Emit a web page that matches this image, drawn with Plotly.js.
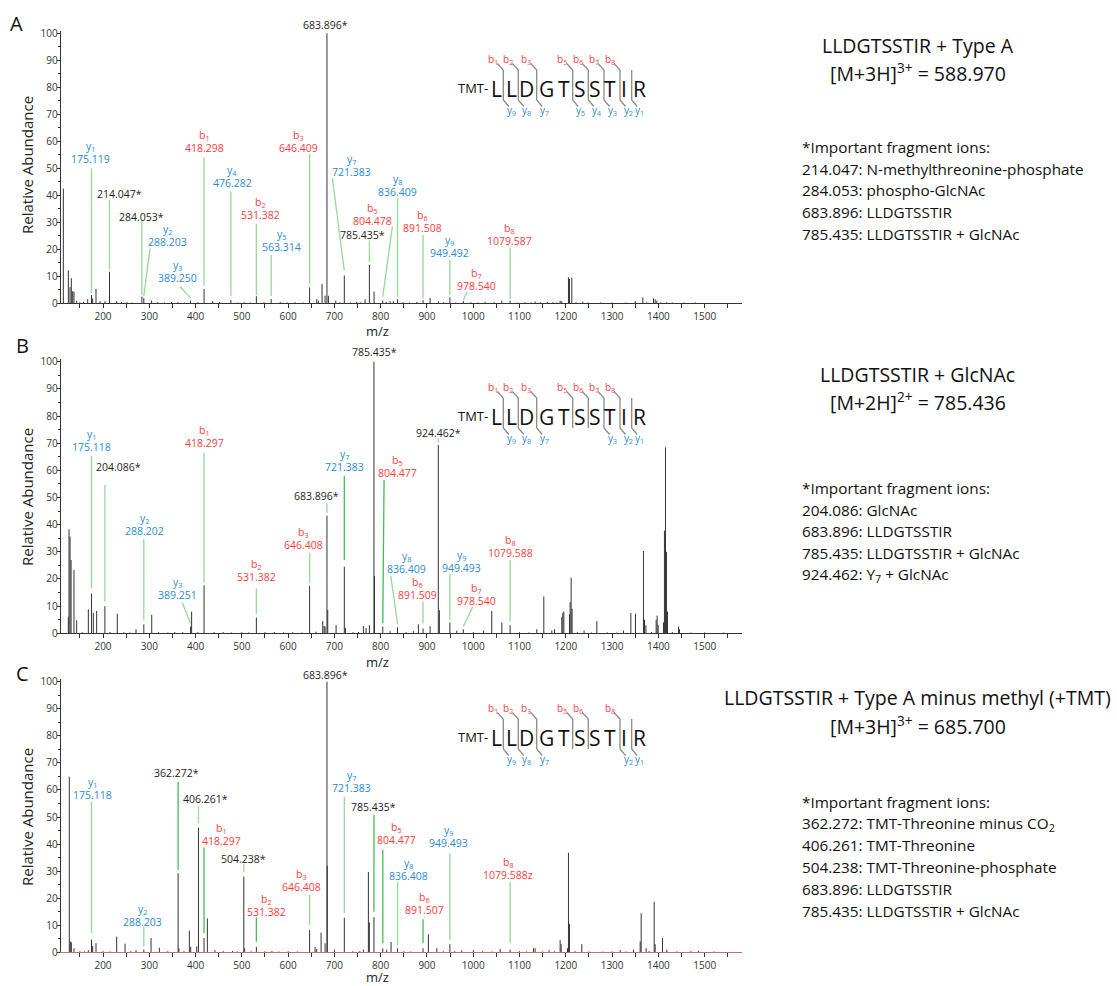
<!DOCTYPE html>
<html><head><meta charset="utf-8">
<script src="https://cdn.plot.ly/plotly-3.0.1.min.js"></script>
<style>html,body{margin:0;padding:0;background:#fff}#chart{width:1117px;height:986px}</style>
</head><body><div id="chart"></div>
<script>
const W = 1117, H = 986;

// ================= DATA =================
// spectra: [m/z, relative abundance]
const spectrumA = [[114.3,42.5],[125.1,12.2],[128.7,6.0],[131.6,9.3],[134.5,4.5],[137.3,4.3],[143.1,1.0],[150,0.4],[158,0.5],[166.9,1.5],[175.119,3.0],[177.7,1.8],[184.9,5.3],[193.5,0.8],[204.4,0.8],[214.047,11.7],[229.6,0.8],[240,0.5],[252,0.4],[263,0.3],[284.053,2.5],[288.203,2.0],[305,1.0],[318,0.4],[333,0.3],[348,0.5],[362,0.4],[376,0.3],[389.25,1.0],[405,0.4],[418.298,5.3],[437,0.8],[452,0.5],[476.282,1.2],[490,0.3],[505,0.4],[518,0.3],[531.382,2.6],[548,0.4],[563.314,1.6],[583,0.5],[598,0.3],[615,0.4],[632,0.3],[646.409,5.9],[661.8,1.5],[665.4,1.0],[673.3,7.2],[679.8,2.8],[683.896,100],[687,2.8],[702.9,1.0],[712,0.4],[721.383,10.3],[735,0.3],[748,0.5],[757,0.4],[766.3,1.5],[775.6,14.2],[785.7,4.3],[804.478,1.0],[812,0.5],[820.3,0.8],[827.4,0.8],[836.409,1.5],[848,0.4],[862,0.3],[878,0.5],[891.508,1.2],[906.7,2.0],[924.7,0.6],[936,0.4],[949.492,2.2],[962,0.3],[978.54,0.8],[995,0.4],[1010,0.3],[1025.6,0.5],[1045,0.4],[1061.7,1.0],[1079.587,1.0],[1095,0.3],[1112,0.4],[1125,0.3],[1133.6,0.7],[1145,0.4],[1160,0.5],[1172,0.4],[1180,0.3],[1187.7,1.0],[1191.3,0.8],[1205.7,9.6],[1207.9,9.0],[1212.9,9.5],[1222,0.4],[1236.7,0.6],[1248,0.3],[1275,0.3],[1300,0.3],[1330,0.3],[1349.8,0.8],[1366.4,2.2],[1375,0.4],[1389.4,1.8],[1393,1.5],[1396.7,1.0],[1405,0.4],[1418,0.4],[1430,0.3],[1455,0.3],[1480,0.3]];

const spectrumB = [[125.1,6.1],[126.6,38.3],[128.8,35.6],[131,27],[137.3,23.3],[143.1,4.8],[155,0.4],[168.3,8.8],[175.118,14.7],[179.1,7.5],[186.3,8.2],[204.086,10],[215,0.5],[230.9,7.2],[245,0.4],[258,0.3],[271.3,1.5],[288.202,3.3],[305.3,6.8],[320,0.4],[340,0.3],[355,0.5],[372,0.4],[389.251,2.5],[391.5,8],[405,0.4],[418.297,17.7],[440,0.5],[460,0.4],[478,0.3],[500,0.4],[515,0.3],[531.382,5.8],[550,0.4],[570,0.5],[590,0.3],[610,0.4],[630,0.3],[646.408,17.5],[660,0.6],[674.8,4.5],[677.7,2.7],[679.8,2.5],[683.896,43.3],[685.6,8.6],[703.6,3],[721.383,24.5],[723.8,2],[740,0.4],[752,0.5],[762.6,2.7],[768.4,2.0],[775.6,3.0],[785.435,100],[786.6,21],[804.477,2.5],[820.3,0.8],[836.409,2.2],[855,0.4],[870.7,0.8],[881.5,3.3],[891.509,1.8],[906.7,2.6],[924.462,69.3],[926.8,8.5],[949.493,4.0],[964.4,1.0],[978.54,1.5],[1000,0.4],[1022,1.0],[1040,8.2],[1061.7,4.0],[1079.588,3.0],[1100,0.4],[1120,0.3],[1137.3,1.5],[1152.4,13.5],[1169.7,1.0],[1175.4,1.5],[1191.3,6],[1193.5,7.5],[1195.7,8],[1207.9,7],[1209.3,11.5],[1211.5,20.5],[1213.6,9],[1225,0.4],[1239.5,1.0],[1255,0.3],[1267,4.5],[1290,0.3],[1310,0.3],[1324.5,1.0],[1340.5,7.5],[1350.5,7.2],[1367.7,30.3],[1370,5],[1373,3],[1385,0.5],[1395.2,5],[1397.3,6.5],[1399.5,3],[1411,4],[1413.1,37.8],[1415.3,68.5],[1417.4,30],[1419.6,8],[1430,0.5],[1443.4,2.5],[1445.6,1.5],[1470,0.3],[1500,0.3],[1540,0.3]];

const spectrumC = [[127.2,64.9],[129.4,4.0],[131.6,3.7],[137.3,1.5],[150,0.4],[160,0.3],[168.3,0.8],[175.118,4.7],[177.7,2.3],[184.9,3.4],[200,0.4],[215,0.3],[229.6,5.8],[247.6,3.2],[260,0.4],[271.3,0.8],[288.203,1.0],[303.8,5.3],[321.8,1.7],[340,0.4],[362.272,29.2],[364,1.5],[375,0.4],[386.6,8.0],[389.5,2.0],[402.5,2.2],[406.261,46.1],[418.297,5.3],[425.5,12.5],[442,0.8],[460,0.4],[480,0.5],[490,0.3],[504.238,28.0],[506,1.5],[520,0.4],[531.382,2.0],[550,0.4],[565,0.5],[580,0.3],[600,0.4],[620,0.3],[646.408,8.2],[658.2,2.0],[661.8,1.2],[671.2,7.3],[679.8,3.3],[683.896,100],[684.6,32],[700,1.0],[721.383,12.8],[740,0.4],[755,0.5],[762.6,1.0],[773.4,29.7],[775.5,11],[785.435,13.0],[804.477,1.5],[813,1.0],[822.4,3.8],[836.408,1.5],[850,0.4],[865,0.3],[891.507,1.5],[903.1,6.7],[921.2,1.5],[935,0.4],[949.493,3.0],[960,0.4],[975.2,0.7],[1000.3,0.8],[1020,0.4],[1040,0.3],[1058,1.2],[1079.588,1.0],[1100,0.4],[1115,0.3],[1130,1.5],[1133.6,1.5],[1150,0.3],[1163.9,0.8],[1175,0.4],[1187.7,4.5],[1189.9,3.0],[1203.6,1.5],[1205.7,36.8],[1207.9,10.5],[1220,0.4],[1234.5,3.0],[1250,0.3],[1280,0.3],[1300,0.3],[1317.4,0.8],[1330,0.3],[1346.2,1.0],[1360.6,4.0],[1362.8,14.4],[1373.6,1.5],[1380,0.4],[1390.9,18.7],[1393,3.0],[1408.9,5.3],[1418.3,1.0],[1440,0.3],[1470,0.4],[1486.6,0.5],[1520,0.3]];

// annotated ions: [ion name, label, type (b / y / n = other), m/z of the labelled peak]
const ionsA = [['y1','175.119','y',175.119],['','214.047*','n',214.047],['','284.053*','n',284.053],['y2','288.203','y',288.203],['y3','389.250','y',389.25],['b1','418.298','b',418.298],['y4','476.282','y',476.282],['b2','531.382','b',531.382],['y5','563.314','y',563.314],['b3','646.409','b',646.409],['','683.896*','n',683.896],['y7','721.383','y',721.383],['','785.435*','n',775.6],['b5','804.478','b',804.478],['y8','836.409','y',836.409],['b6','891.508','b',891.508],['y9','949.492','y',949.492],['b7','978.540','b',978.54],['b8','1079.587','b',1079.587]];
const ionsB = [['y1','175.118','y',175.118],['','204.086*','n',204.086],['y2','288.202','y',288.202],['y3','389.251','y',389.251],['b1','418.297','b',418.297],['b2','531.382','b',531.382],['b3','646.408','b',646.408],['','683.896*','n',683.896],['y7','721.383','y',721.383],['','785.435*','n',785.435],['b5','804.477','b',804.477],['y8','836.409','y',836.409],['b6','891.509','b',891.509],['','924.462*','n',924.462],['y9','949.493','y',949.493],['b7','978.540','b',978.54],['b8','1079.588','b',1079.588]];
const ionsC = [['y1','175.118','y',175.118],['y2','288.203','y',288.203],['','362.272*','n',362.272],['','406.261*','n',406.261],['b1','418.297','b',418.297],['','504.238*','n',504.238],['b2','531.382','b',531.382],['b3','646.408','b',646.408],['','683.896*','n',683.896],['y7','721.383','y',721.383],['','785.435*','n',785.435],['b5','804.477','b',804.477],['y8','836.408','y',836.408],['b6','891.507','b',891.507],['y9','949.493','y',949.493],['b8','1079.588z','b',1079.588]];

// peptide and observed fragment ions
const residues = ['L','L','D','G','T','S','S','T','I','R'];
const seqBA = [1,2,3,5,6,7,8], seqYA = [9,8,7,5,4,3,2,1];
const seqBB = [1,2,3,5,6,7,8], seqYB = [9,8,7,3,2,1];
const seqBC = [1,2,3,5,6,8],   seqYC = [9,8,7,2,1];

// side texts
const titleA = ['LLDGTSSTIR + Type A','[M+3H]<sup>3+</sup> = 588.970'];
const fragA = ['*Important fragment ions:','214.047: N-methylthreonine-phosphate','284.053: phospho-GlcNAc','683.896: LLDGTSSTIR','785.435: LLDGTSSTIR + GlcNAc'];
const titleB = ['LLDGTSSTIR + GlcNAc','[M+2H]<sup>2+</sup> = 785.436'];
const fragB = ['*Important fragment ions:','204.086: GlcNAc','683.896: LLDGTSSTIR','785.435: LLDGTSSTIR + GlcNAc','924.462: Y<sub>7</sub> + GlcNAc'];
const titleC = ['LLDGTSSTIR + Type A minus methyl (+TMT)','[M+3H]<sup>3+</sup> = 685.700'];
const fragC = ['*Important fragment ions:','362.272: TMT-Threonine minus CO<sub>2</sub>','406.261: TMT-Threonine','504.238: TMT-Threonine-phosphate','683.896: LLDGTSSTIR','785.435: LLDGTSSTIR + GlcNAc'];
const panelLetters = ['A','B','C'];
const xTitle = 'm/z', yTitle = 'Relative Abundance';

// ================= PLACEMENT (layout only) =================
// label: [labelX (m/z), labelY (abundance of number centre), leader top x (null = peak), leader top y (null = none), leader bottom y, dark]
const placeA = [[174,53.3,null,50,3.7,0],[234.6,40.4,null,38.3,12.6,0],[282.9,32.1,null,30.9,3.1,0],[339.8,22.8,301.6,20.4,2.6,0],[361.4,9.3,366.5,6.2,1.9,0],[418.3,57.4,null,54,6.5,0],[479.5,44.4,null,41.4,2.7,0],[539.3,32.7,null,29.4,3.1,0],[586.2,20.7,null,17.9,2.7,0],[622.2,57.4,null,55.3,7.2,0],[681.3,103.2,null,null,null,0],[737.5,48.8,695.6,46.3,12.1,0],[759.8,25.3,null,23.2,15.4,0],[781.5,30.6,825.3,28.4,2.5,0],[836.1,41.4,null,38.9,2.5,0],[890,27.8,null,25.3,1.9,0],[948.5,18.5,null,16,3.1,0],[1006.2,6.4,987.4,4.3,1.2,0],[1077.5,23.2,null,20.7,1.6,0]];
const placeB = [[174.1,68.7,null,65.3,16.6,0],[233.2,61.3,null,54.6,11.7,0],[288.6,37.8,null,34.6,4.9,0],[361.4,14.1,371.2,11.3,3.7,0],[418.3,70.2,null,66.5,18.6,0],[532.1,20.6,null,16.6,7.1,0],[633,32.5,null,29.7,18.6,0],[660.4,50.6,null,47.9,44.4,0],[721,61.3,null,58,27,1],[787.2,103.4,null,null,null,0],[836.9,58.9,807.3,56.4,3.7,1],[856.4,23.7,821.8,21.2,3.4,0],[879.4,14.1,null,11.7,3.7,0],[924.8,73.6,null,71.8,70.3,0],[975.2,23.9,null,21.8,4.7,0],[1007.6,12,999,9.8,2.5,0],[1081.1,29.7,null,27,4.3,0]];
const placeC = [[176.7,58.1,null,55.7,7,0],[285.7,11.3,null,9.5,2.1,0],[359.4,66.1,null,63,30.4,1],[420.5,56.5,null,53.8,47.7,0],[456.5,41.1,null,38.7,7,1],[503.3,34.4,null,32.6,29.6,0],[553.7,15,null,12.9,3.9,1],[628,24.3,null,21.2,10.1,0],[679.8,102.6,null,null,null,0],[737.5,60.6,null,57.5,14.4,0],[784.3,53.8,null,50.7,15,1],[833.3,41.5,null,37.8,3.3,1],[859.9,28.3,null,26.1,2.7,0],[893.8,15.6,null,12.2,3.3,1],[946.3,40.3,null,36.6,4.6,0],[1076,28.6,null,26.1,3.3,0]];

// plot geometry in px: [y of 0, y of 100]
const panelPx = [[303.3,33.3],[633.3,361.7],[952.3,681.7]];
const plotLeft = 60.7, plotRight = 741.7;
const xRange = [108.6, 1580];
// sequence geometry (px)
const letterPx = [496,511,526.5,546,564,579.5,594.5,610,624,639];
const sitePx = [null,503.3,518.3,536.7,555,572.7,588.3,604,620,631.7];
const seqOffset = [0,328,649];
// side text geometry (px): [title y, formula y, fragment first y]
const sideY = [[45,72,147],[374,402,488],[697,725,802]];
const letterPos = [[16.7,23],[22.5,345],[22.5,673]];
const mzPos = [[377,331],[377,662],[377,977]];
const yTitlePos = [[27,165],[27,497],[27,817]];

// ================= BUILD =================
const FONT = '"Open Sans", sans-serif';
const TYPE_COLOR = {y:'#2a8bd3', b:'#ff3c3c', n:'#1e1e1e'};
const LEAD_LIGHT = '#97d997', LEAD_DARK = '#45bb5a';
const SEQ_GRAY = '#8a8a8a';
const px = v => v / W, py = v => 1 - v / H;
const ionHtml = n => n[0] + '<sub>' + n.slice(1) + '</sub>';

const spectra = [spectrumA, spectrumB, spectrumC];
const ions = [ionsA, ionsB, ionsC];
const places = [placeA, placeB, placeC];
const seqB = [seqBA, seqBB, seqBC], seqY = [seqYA, seqYB, seqYC];
const titles = [titleA, titleB, titleC], frags = [fragA, fragB, fragC];

const traces = [], annotations = [], shapes = [];
const layout = {
  width: W, height: H, margin: {l:0, r:0, t:0, b:0},
  paper_bgcolor: '#fff', plot_bgcolor: 'rgba(0,0,0,0)', showlegend: false,
  font: {family: FONT, color: '#222'}
};

spectra.forEach((spec, i) => {
  const xa = i === 0 ? 'x' : 'x' + (i + 1);
  const ya = i === 0 ? 'y' : 'y' + (i + 1);
  const [y0, y100] = panelPx[i];
  const pxu = (y0 - y100) / 100;
  const topPx = y100 - pxu * 1;
  layout[i === 0 ? 'xaxis' : 'xaxis' + (i + 1)] = {
    domain: [px(plotLeft), px(plotRight)], range: xRange, anchor: ya,
    showline: true, linecolor: i === 2 ? '#b9766e' : '#333', linewidth: 1,
    ticks: 'outside', ticklen: 4, tickcolor: '#333', tickwidth: 1,
    tick0: 0, dtick: 100, tickfont: {family: FONT, size: 10, color: '#333'},
    showgrid: false, zeroline: false, fixedrange: true,
    minor: {dtick: 50, ticks: 'outside', ticklen: 4, tickcolor: '#333', showgrid: false}
  };
  layout[i === 0 ? 'yaxis' : 'yaxis' + (i + 1)] = {
    domain: [py(y0), py(topPx)], range: [0, 101], anchor: xa,
    showline: true, linecolor: '#333', linewidth: 1,
    ticks: 'outside', ticklen: 3, tickcolor: '#333', tickwidth: 1,
    tick0: 0, dtick: 10, tickfont: {family: FONT, size: 10, color: '#333'},
    ticklabelstandoff: -3,
    showgrid: false, zeroline: false, fixedrange: true,
    minor: {dtick: 5, ticks: 'outside', ticklen: 2, tickcolor: '#333', showgrid: false}
  };
  // stems
  const xs = [], ys = [];
  spec.forEach(([m, h]) => { xs.push(m, m, null); ys.push(0, h, null); });
  traces.push({type: 'scatter', mode: 'lines', x: xs, y: ys, xaxis: xa, yaxis: ya,
    line: {color: '#333', width: 1}, hoverinfo: 'skip', connectgaps: false});
  // labels + leaders
  ions[i].forEach((ion, j) => {
    const [name, label, type, pm] = ion;
    const [lx, ly, tx, ty, by, dark] = places[i][j];
    const yy = Math.min(ly, 100), ysh = ly > 100 ? (ly - 100) * pxu : 0;
    const font = {family: FONT, size: 10.5, color: TYPE_COLOR[type]};
    annotations.push({xref: xa, yref: ya, x: lx, y: yy, yshift: ysh, text: label, showarrow: false,
      font, xanchor: 'center', yanchor: 'middle'});
    if (name) annotations.push({xref: xa, yref: ya, x: lx, y: yy, yshift: ysh + 12.5, text: ionHtml(name),
      showarrow: false, font, xanchor: 'center', yanchor: 'middle'});
    if (ty !== null) shapes.push({type: 'line', xref: xa, yref: ya, x0: tx === null ? pm : tx, y0: ty, x1: pm, y1: by,
      line: {color: dark ? LEAD_DARK : LEAD_LIGHT, width: 1.3}});
  });
  // sequence diagram
  const dy = seqOffset[i];
  annotations.push({xref: 'paper', yref: 'paper', x: px(490), y: py(88 + dy), text: 'TMT-', showarrow: false,
    font: {family: FONT, size: 13, color: '#111'}, xanchor: 'right', yanchor: 'middle'});
  residues.forEach((r, k) => annotations.push({xref: 'paper', yref: 'paper', x: px(letterPx[k]), y: py(89 + dy), text: r,
    showarrow: false, font: {family: FONT, size: 21, color: '#111'}, xanchor: 'center', yanchor: 'middle'}));
  const sites = new Set([...seqB[i], ...seqY[i].map(k => 10 - k)]);
  sites.forEach(s => shapes.push({type: 'line', xref: 'paper', yref: 'paper', x0: px(sitePx[s]), x1: px(sitePx[s]),
    y0: py(70 + dy), y1: py(100 + dy), line: {color: SEQ_GRAY, width: 1.3}}));
  seqB[i].forEach(k => {
    const s = sitePx[k];
    shapes.push({type: 'line', xref: 'paper', yref: 'paper', x0: px(s - 6), y0: py(63.5 + dy), x1: px(s), y1: py(70 + dy),
      line: {color: SEQ_GRAY, width: 1.2}});
    annotations.push({xref: 'paper', yref: 'paper', x: px(s - 10.5), y: py(59 + dy), text: ionHtml('b' + k), showarrow: false,
      font: {family: FONT, size: 10, color: TYPE_COLOR.b}, xanchor: 'center', yanchor: 'middle'});
  });
  seqY[i].forEach(k => {
    const s = sitePx[10 - k];
    shapes.push({type: 'line', xref: 'paper', yref: 'paper', x0: px(s), y0: py(100 + dy), x1: px(s + 5.5), y1: py(106.5 + dy),
      line: {color: SEQ_GRAY, width: 1.2}});
    annotations.push({xref: 'paper', yref: 'paper', x: px(s + 8), y: py(110 + dy), text: ionHtml('y' + k), showarrow: false,
      font: {family: FONT, size: 10, color: TYPE_COLOR.y}, xanchor: 'center', yanchor: 'middle'});
  });
  // side texts
  const [tY, fY, gY] = sideY[i];
  annotations.push({xref: 'paper', yref: 'paper', x: px(917.5), y: py(tY), text: titles[i][0], showarrow: false,
    font: {family: FONT, size: 19.5, color: '#111'}, xanchor: 'center', yanchor: 'middle'});
  annotations.push({xref: 'paper', yref: 'paper', x: px(917.5), y: py(fY), text: titles[i][1], showarrow: false,
    font: {family: FONT, size: 19.5, color: '#111'}, xanchor: 'center', yanchor: 'middle'});
  frags[i].forEach((t, k) => annotations.push({xref: 'paper', yref: 'paper', x: px(800), y: py(gY + 21.7 * k), text: t,
    showarrow: false, font: {family: FONT, size: 15.3, color: '#111'}, xanchor: 'left', yanchor: 'middle'}));
  // panel letter, axis titles
  annotations.push({xref: 'paper', yref: 'paper', x: px(letterPos[i][0]), y: py(letterPos[i][1]), text: panelLetters[i],
    showarrow: false, font: {family: FONT, size: 20, color: '#111'}, xanchor: 'center', yanchor: 'middle'});
  annotations.push({xref: 'paper', yref: 'paper', x: px(mzPos[i][0]), y: py(mzPos[i][1]), text: xTitle,
    showarrow: false, font: {family: FONT, size: 13, color: '#222'}, xanchor: 'center', yanchor: 'middle'});
  annotations.push({xref: 'paper', yref: 'paper', x: px(yTitlePos[i][0]), y: py(yTitlePos[i][1]), text: yTitle, textangle: -90,
    showarrow: false, font: {family: FONT, size: 15, color: '#222'}, xanchor: 'center', yanchor: 'middle'});
});

layout.annotations = annotations;
layout.shapes = shapes;
Plotly.newPlot('chart', traces, layout, {staticPlot: true, displayModeBar: false});
</script>
</body></html>
